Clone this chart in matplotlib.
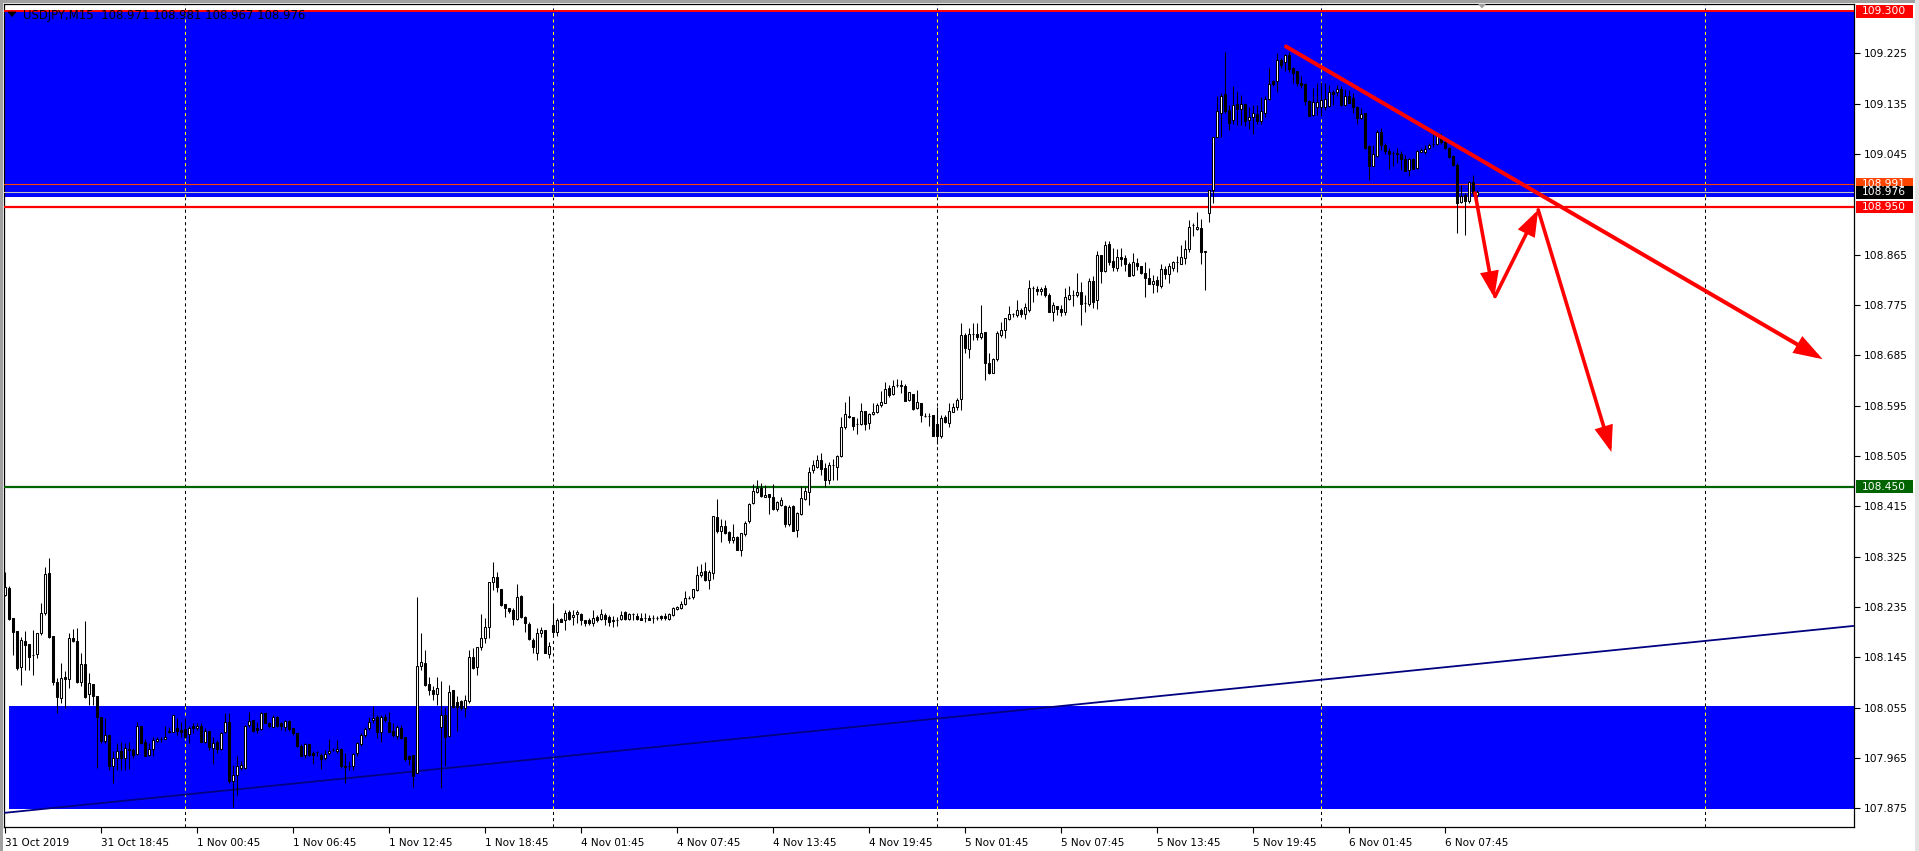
import matplotlib
matplotlib.use("Agg")
import matplotlib.pyplot as plt
from matplotlib.patches import Rectangle, Polygon
import numpy as np

plt.rcParams['font.family'] = ['DejaVu Sans']

# ---------------- data (USDJPY, M15) ----------------
opens = [
108.257,108.269,108.215,108.192,108.127,108.174,108.168,108.149,108.151,108.189,
108.225,108.295,108.183,108.100,108.072,108.109,108.106,108.179,108.175,108.100,
108.133,108.080,108.097,108.076,108.039,107.996,108.006,107.951,107.965,107.977,
107.965,107.981,107.980,107.972,108.023,107.994,107.971,107.981,107.995,107.999,
107.999,108.013,108.012,108.018,108.015,108.016,108.008,108.022,108.018,108.023,
107.994,108.014,107.983,107.993,107.981,108.011,108.030,107.924,107.934,107.947,
107.947,108.024,108.033,108.018,108.017,108.046,108.028,108.021,108.039,108.028,
108.021,108.031,108.018,108.009,107.987,107.971,107.990,107.974,107.975,107.971,
107.965,107.974,107.979,107.978,107.981,107.951,107.950,107.950,107.974,107.990,
108.006,108.018,108.033,108.039,108.011,108.039,108.030,108.013,108.005,108.018,
108.002,107.968,107.971,107.939,108.129,108.134,108.098,108.087,108.079,108.020,
108.041,108.005,108.086,108.065,108.066,108.054,108.066,108.145,108.127,108.163,
108.179,108.200,108.279,108.288,108.268,108.240,108.234,108.230,108.214,108.254,
108.217,108.205,108.176,108.152,108.188,108.194,108.151,108.202,108.191,108.213,
108.212,108.226,108.217,108.222,108.223,108.211,108.211,108.206,108.217,108.214,
108.221,108.217,108.210,108.211,108.214,108.226,108.214,108.223,108.218,108.216,
108.215,108.216,108.215,108.216,108.218,108.218,108.214,108.220,108.231,108.233,
108.240,108.251,108.252,108.266,108.292,108.300,108.283,108.295,108.395,108.370,
108.379,108.369,108.355,108.360,108.336,108.365,108.388,108.420,108.441,108.448,
108.432,108.437,108.432,108.410,108.418,108.416,108.384,108.416,108.372,108.401,
108.428,108.441,108.479,108.486,108.498,108.483,108.462,108.488,108.486,108.504,
108.556,108.577,108.574,108.562,108.562,108.585,108.563,108.580,108.583,108.596,
108.600,108.626,108.615,108.631,108.631,108.630,108.605,108.615,108.590,108.599,
108.577,108.577,108.578,108.562,108.541,108.575,108.563,108.584,108.592,108.606,
108.721,108.696,108.723,108.723,108.717,108.726,108.672,108.654,108.678,108.721,
108.730,108.750,108.758,108.757,108.766,108.758,108.766,108.805,108.803,108.799,
108.805,108.793,108.763,108.773,108.768,108.763,108.786,108.792,108.792,108.798,
108.779,108.777,108.818,108.783,108.865,108.835,108.884,108.854,108.841,108.860,
108.859,108.848,108.828,108.850,108.845,108.832,108.824,108.813,108.820,108.808,
108.839,108.830,108.841,108.851,108.849,108.858,108.875,108.917,108.910,108.912,
108.870,108.939,108.981,109.076,109.119,109.152,109.124,109.105,109.135,109.126,
109.134,109.106,109.111,109.117,109.103,109.119,109.144,109.175,109.175,109.212,
109.209,109.222,109.198,109.193,109.172,109.170,109.139,109.115,109.129,109.129,
109.128,109.130,109.156,109.156,109.161,109.133,109.149,109.145,109.129,109.109,
109.118,109.060,109.024,109.041,109.085,109.061,109.050,109.046,109.047,109.045,
109.036,109.017,109.035,109.020,109.049,109.048,109.055,109.062,109.062,109.075,
109.067,109.055,109.042,109.026,108.959,108.972,108.960,108.995,108.971]

highs = [
108.298,108.273,108.215,108.192,108.182,108.192,108.168,108.194,108.188,108.242,
108.307,108.322,108.183,108.108,108.134,108.120,108.188,108.195,108.197,108.152,
108.210,108.117,108.097,108.076,108.039,108.036,108.006,107.978,107.991,107.994,
107.991,107.993,107.983,108.030,108.023,107.999,107.991,108.002,108.002,108.003,
108.022,108.021,108.042,108.036,108.030,108.036,108.022,108.028,108.028,108.027,
108.018,108.014,108.003,107.997,108.012,108.045,108.045,107.953,107.969,107.959,
108.024,108.048,108.033,108.030,108.048,108.046,108.030,108.042,108.040,108.030,
108.033,108.033,108.018,108.009,107.990,107.991,107.990,107.977,107.978,107.974,
107.980,107.999,107.983,107.997,107.983,107.974,107.959,107.974,107.994,108.009,
108.020,108.039,108.058,108.041,108.041,108.044,108.048,108.028,108.024,108.024,
108.002,107.971,107.971,108.252,108.189,108.158,108.109,108.093,108.109,108.102,
108.057,108.096,108.087,108.075,108.069,108.078,108.158,108.161,108.164,108.223,
108.215,108.279,108.316,108.297,108.268,108.240,108.234,108.233,108.276,108.257,
108.218,108.209,108.179,108.197,108.199,108.194,108.173,108.240,108.215,108.215,
108.229,108.229,108.230,108.229,108.224,108.211,108.215,108.230,108.221,108.231,
108.224,108.221,108.218,108.217,108.228,108.227,108.225,108.225,108.224,108.224,
108.224,108.221,108.221,108.219,108.221,108.224,108.224,108.235,108.237,108.245,
108.264,108.254,108.268,108.308,108.312,108.316,108.301,108.397,108.428,108.392,
108.391,108.370,108.384,108.361,108.368,108.388,108.420,108.455,108.462,108.456,
108.453,108.437,108.454,108.424,108.431,108.418,108.418,108.418,108.404,108.451,
108.450,108.485,108.498,108.507,108.510,108.492,108.494,108.499,108.507,108.575,
108.602,108.612,108.574,108.572,108.600,108.586,108.581,108.600,108.600,108.621,
108.637,108.632,108.641,108.642,108.641,108.633,108.620,108.616,108.623,108.600,
108.581,108.581,108.579,108.593,108.578,108.578,108.600,108.600,108.609,108.742,
108.724,108.733,108.742,108.742,108.775,108.727,108.689,108.680,108.729,108.745,
108.752,108.773,108.760,108.784,108.769,108.779,108.820,108.808,108.808,108.807,
108.811,108.796,108.781,108.773,108.775,108.805,108.809,108.802,108.832,108.816,
108.793,108.823,108.826,108.872,108.865,108.890,108.890,108.876,108.875,108.876,
108.865,108.851,108.867,108.859,108.845,108.851,108.841,108.828,108.826,108.848,
108.845,108.850,108.854,108.862,108.882,108.891,108.927,108.921,108.942,108.928,
108.871,108.981,109.075,109.148,109.154,109.228,109.133,109.166,109.157,109.151,
109.136,109.129,109.133,109.133,109.147,109.148,109.198,109.178,109.226,109.216,
109.224,109.228,109.200,109.194,109.184,109.172,109.142,109.163,109.172,109.173,
109.172,109.169,109.160,109.169,109.166,109.161,109.160,109.154,109.130,109.127,
109.118,109.061,109.061,109.088,109.091,109.064,109.055,109.051,109.055,109.051,
109.043,109.038,109.038,109.052,109.055,109.061,109.064,109.082,109.079,109.083,
109.073,109.058,109.043,109.029,108.990,108.975,108.996,109.007,108.981]

lows = [
108.254,108.212,108.149,108.123,108.095,108.123,108.123,108.114,108.143,108.185,
108.221,108.179,108.096,108.046,108.063,108.054,108.090,108.173,108.099,108.093,
108.072,108.060,108.060,107.947,107.991,107.991,107.944,107.920,107.944,107.944,
107.944,107.945,107.965,107.971,107.990,107.969,107.968,107.968,107.994,107.994,
107.999,108.009,108.011,108.006,108.003,108.000,107.991,108.009,108.015,107.994,
107.991,107.980,107.955,107.974,107.980,108.009,107.920,107.878,107.899,107.944,
107.945,108.021,108.011,108.009,108.015,108.027,108.018,108.020,108.021,108.015,
108.014,108.014,108.006,107.985,107.968,107.965,107.968,107.955,107.968,107.945,
107.962,107.971,107.977,107.974,107.947,107.920,107.944,107.944,107.968,107.987,
108.003,108.015,108.028,108.000,107.994,108.030,108.011,108.002,107.999,107.999,
107.960,107.953,107.914,107.938,108.123,108.093,108.078,108.069,108.060,107.911,
107.950,108.003,108.054,108.013,108.051,108.039,108.064,108.124,108.114,108.158,
108.170,108.179,108.266,108.261,108.236,108.217,108.224,108.203,108.212,108.215,
108.190,108.176,108.152,108.140,108.181,108.152,108.143,108.182,108.183,108.209,
108.194,108.211,108.203,108.206,108.203,108.201,108.203,108.201,108.209,108.212,
108.203,108.201,108.200,108.201,108.212,108.212,108.211,108.212,108.211,108.211,
108.209,108.211,108.207,108.212,108.212,108.211,108.212,108.218,108.230,108.231,
108.239,108.249,108.249,108.264,108.289,108.282,108.267,108.285,108.368,108.352,
108.366,108.350,108.349,108.336,108.326,108.361,108.386,108.419,108.438,108.432,
108.431,108.401,108.409,108.407,108.416,108.378,108.380,108.370,108.360,108.400,
108.426,108.417,108.474,108.483,108.471,108.450,108.455,108.462,108.462,108.503,
108.554,108.572,108.552,108.544,108.560,108.552,108.554,108.578,108.581,108.593,
108.599,108.611,108.614,108.629,108.617,108.603,108.604,108.587,108.589,108.565,
108.575,108.559,108.540,108.526,108.537,108.563,108.556,108.583,108.588,108.587,
108.689,108.680,108.712,108.712,108.714,108.640,108.652,108.653,108.674,108.718,
108.715,108.748,108.753,108.754,108.754,108.749,108.763,108.781,108.792,108.792,
108.790,108.763,108.747,108.757,108.756,108.757,108.784,108.773,108.790,108.739,
108.763,108.773,108.769,108.768,108.815,108.833,108.847,108.835,108.835,108.844,
108.835,108.826,108.826,108.838,108.831,108.790,108.813,108.797,108.798,108.805,
108.822,108.815,108.835,108.833,108.848,108.848,108.869,108.898,108.909,108.848,
108.801,108.924,108.958,109.075,109.075,109.118,109.087,109.099,109.097,109.097,
109.095,109.089,109.081,109.099,109.099,109.111,109.142,109.167,109.155,109.198,
109.194,109.191,109.172,109.167,109.163,109.133,109.112,109.113,109.115,109.113,
109.124,109.129,109.133,109.148,109.131,109.131,109.136,109.118,109.099,109.107,
109.054,108.998,109.023,109.039,109.052,109.045,109.018,109.023,109.029,109.017,
109.015,109.006,109.018,109.018,109.048,109.045,109.053,109.058,109.061,109.063,
109.054,109.038,109.023,108.903,108.957,108.900,108.957,108.970,108.967]

closes = [
108.270,108.214,108.191,108.126,108.176,108.167,108.146,108.150,108.188,108.224,
108.294,108.181,108.100,108.074,108.108,108.106,108.179,108.175,108.100,108.133,
108.074,108.099,108.075,108.039,107.996,108.006,107.951,107.965,107.977,107.965,
107.982,107.980,107.971,108.022,107.991,107.969,107.981,107.997,107.999,107.999,
108.003,108.011,108.042,108.014,108.012,108.002,108.018,108.018,108.023,107.994,
108.014,107.984,107.991,107.981,108.009,108.030,107.923,107.934,107.950,107.952,
108.023,108.032,108.014,108.015,108.046,108.028,108.023,108.039,108.022,108.022,
108.032,108.016,108.009,107.987,107.969,107.990,107.971,107.971,107.975,107.963,
107.972,107.978,107.980,107.981,107.950,107.948,107.950,107.972,107.991,108.006,
108.016,108.030,108.037,108.011,108.039,108.033,108.012,108.006,108.020,108.000,
107.963,107.963,107.932,108.129,108.136,108.095,108.086,108.079,108.090,108.041,
108.003,108.083,108.057,108.057,108.054,108.069,108.145,108.126,108.163,108.179,
108.200,108.279,108.288,108.270,108.239,108.234,108.227,108.214,108.252,108.217,
108.206,108.177,108.164,108.188,108.193,108.153,108.165,108.191,108.211,108.209,
108.224,108.214,108.221,108.226,108.211,108.206,108.207,108.216,108.211,108.222,
108.214,108.208,108.211,108.211,108.220,108.214,108.223,108.223,108.214,108.212,
108.215,108.212,108.215,108.216,108.215,108.215,108.222,108.233,108.235,108.240,
108.251,108.251,108.267,108.292,108.298,108.283,108.297,108.397,108.370,108.379,
108.368,108.354,108.360,108.336,108.367,108.386,108.419,108.443,108.447,108.434,
108.436,108.432,108.410,108.422,108.426,108.383,108.413,108.370,108.403,108.429,
108.443,108.477,108.489,108.497,108.481,108.462,108.488,108.488,108.504,108.557,
108.580,108.574,108.559,108.562,108.586,108.562,108.580,108.584,108.596,108.602,
108.624,108.614,108.630,108.631,108.630,108.603,108.619,108.589,108.601,108.578,
108.577,108.576,108.541,108.541,108.572,108.565,108.586,108.592,108.605,108.721,
108.698,108.723,108.723,108.718,108.724,108.672,108.654,108.678,108.724,108.730,
108.751,108.758,108.758,108.766,108.758,108.772,108.805,108.805,108.799,108.804,
108.793,108.763,108.775,108.768,108.763,108.789,108.793,108.792,108.798,108.776,
108.779,108.818,108.781,108.865,108.835,108.882,108.851,108.842,108.860,108.857,
108.848,108.827,108.851,108.845,108.832,108.824,108.813,108.817,108.810,108.839,
108.830,108.844,108.851,108.851,108.860,108.875,108.915,108.917,108.915,108.869,
108.871,108.980,109.075,109.122,109.149,109.121,109.101,109.132,109.126,109.134,
109.103,109.111,109.118,109.103,109.121,109.143,109.170,109.170,109.212,109.204,
109.222,109.197,109.190,109.172,109.169,109.139,109.113,109.138,109.137,109.142,
109.144,109.156,109.152,109.161,109.133,109.149,109.136,109.129,109.109,109.117,
109.055,109.024,109.044,109.085,109.061,109.050,109.044,109.047,109.044,109.036,
109.015,109.035,109.018,109.051,109.052,109.053,109.061,109.062,109.077,109.067,
109.055,109.040,109.026,108.958,108.970,108.960,108.995,108.975,108.976]

# time axis labels (bar index -> label)
time_label_bars = [0, 24, 48, 72, 96, 120, 144, 168, 192, 216, 240, 264, 288, 312, 336, 360]
time_labels = ["31 Oct 2019", "31 Oct 18:45", "1 Nov 00:45", "1 Nov 06:45", "1 Nov 12:45",
               "1 Nov 18:45", "4 Nov 01:45", "4 Nov 07:45", "4 Nov 13:45", "4 Nov 19:45",
               "5 Nov 01:45", "5 Nov 07:45", "5 Nov 13:45", "5 Nov 19:45", "6 Nov 01:45",
               "6 Nov 07:45"]
day_separator_bars = [45, 137, 233, 329, 425]

price_ticks = [107.875, 107.965, 108.055, 108.145, 108.235, 108.325, 108.415, 108.505,
               108.595, 108.685, 108.775, 108.865, 109.045, 109.135, 109.225]

# levels / objects
zone_top = (108.9685, 109.300)
zone_bottom = (107.873, 108.058)
zone_bottom_start_bar = 1.0
level_red_top = 109.300
level_orange = 108.991
level_bid = 108.976
level_red = 108.950
level_green = 108.450
support_x = [0, 462]
support_y = [107.867, 108.201]
resist_start = (320.25, 109.237)
resist_end = (454.4, 108.678)
zigzag = [((367.5, 108.975), (372.3, 108.788)),
          ((372.5, 108.790), (383.3, 108.945)),
          ((383.3, 108.945), (401.6, 108.512))]
header = "USDJPY,M15  108.971 108.981 108.967 108.976"

# ---------------- figure ----------------
W, H = 1919, 851
fig = plt.figure(figsize=(W / 100, H / 100), dpi=100)
fig.patch.set_facecolor("white")
ax_l, ax_r, ax_t, ax_b = 4, 1854, 4, 827
ax = fig.add_axes([ax_l / W, 1 - ax_b / H, (ax_r - ax_l) / W, (ax_b - ax_t) / H])
ax.set_facecolor("white")
xmin, xmax = -0.25, 462.25
ymin, ymax = 107.8416, 109.3130
ax.set_xlim(xmin, xmax)
ax.set_ylim(ymin, ymax)

# blue zones
ax.add_patch(Rectangle((xmin, zone_top[0]), xmax - xmin, zone_top[1] - zone_top[0],
                       facecolor="#0000FF", edgecolor="none", zorder=1))
ax.add_patch(Rectangle((zone_bottom_start_bar, zone_bottom[0]), xmax - zone_bottom_start_bar,
                       zone_bottom[1] - zone_bottom[0], facecolor="#0000FF", edgecolor="none", zorder=1))

# day separators (black dashed, yellow on blue)
dash = (0, (3, 3))
for b in day_separator_bars:
    segs = [(ymin, zone_bottom[0], "black"), (zone_bottom[0], zone_bottom[1], "yellow"),
            (zone_bottom[1], zone_top[0], "black"), (zone_top[0], zone_top[1], "yellow"),
            (zone_top[1], ymax, "black")]
    for y0, y1, c in segs:
        if c == "yellow" and b < zone_bottom_start_bar:
            c = "black"
        ax.plot([b, b], [y0, y1], color=c, lw=0.75, ls=dash, zorder=2)

# horizontal levels
ax.axhline(level_orange, color="#FF4500", lw=0.8, zorder=3)
ax.axhline(level_bid, color="#C0C0C0", lw=0.8, zorder=3)
ax.axhline(level_red, color="#FF0000", lw=1.6, zorder=3)
ax.axhline(level_red_top, color="#FF0000", lw=1.4, zorder=3)
ax.axhline(level_green, color="#006400", lw=1.6, zorder=3)

# support trend line
ax.plot(support_x, support_y, color="#000080", lw=1.3, zorder=4)

# candles
o = np.array(opens); h = np.array(highs); l = np.array(lows); c = np.array(closes)
x = np.arange(len(o))
hi = np.maximum(h, np.maximum(o, c))
lo = np.minimum(l, np.minimum(o, c))
ax.vlines(x, lo, hi, color="black", lw=0.75, zorder=5)
up = c > o
dn = c < o
fl = ~(up | dn)
blo = np.minimum(o, c)
bh = np.abs(c - o)
ax.bar(x[up], bh[up], bottom=blo[up], width=0.5, facecolor="white", edgecolor="black",
       linewidth=0.75, zorder=6)
ax.bar(x[dn], bh[dn], bottom=blo[dn], width=0.5, facecolor="black", edgecolor="black",
       linewidth=0.75, zorder=6)
ax.hlines(o[fl], x[fl] - 0.35, x[fl] + 0.35, color="black", lw=0.8, zorder=6)

# red resistance trend line with arrow
ap = dict(arrowstyle="-|>,head_length=1.5,head_width=0.5", color="#FF0000", lw=2.9,
          shrinkA=0, shrinkB=0, mutation_scale=10, joinstyle="miter")
ax.annotate("", xy=resist_end, xytext=resist_start, arrowprops=ap, zorder=7,
            annotation_clip=False)
ap2 = dict(arrowstyle="-|>,head_length=1.4,head_width=0.5", color="#FF0000", lw=2.6,
           shrinkA=0, shrinkB=0, mutation_scale=10, joinstyle="miter")
for s, e in zigzag:
    ax.annotate("", xy=e, xytext=s, arrowprops=ap2, zorder=7, annotation_clip=False)

# axes styling
for sp in ax.spines.values():
    sp.set_color("black")
    sp.set_linewidth(0.9)
ax.yaxis.tick_right()
ax.set_yticks(price_ticks)
ax.set_yticklabels(["%.3f" % v for v in price_ticks])
ax.tick_params(axis="y", which="both", right=True, left=False, length=4, width=0.8,
               pad=3, labelsize=7.7, direction="out", colors="black")
ax.set_xticks(time_label_bars)
ax.set_xticklabels(time_labels)
for lbl in ax.get_xticklabels():
    lbl.set_ha("left")
ax.tick_params(axis="x", length=4, width=0.8, pad=4, labelsize=7.5, direction="out")

# price label boxes on right axis
def price_box(price, text, fc):
    yd = ax.transData.transform((0, price))[1]
    hbox = 12.5
    fig.patches.append(Rectangle((1855.5 / W, (yd - hbox / 2) / H), 57 / W, hbox / H,
                                 transform=fig.transFigure, facecolor=fc, edgecolor="none",
                                 zorder=10))
    fig.text(1861.5 / W, yd / H, text, color="white", fontsize=7.7, va="center",
             ha="left", zorder=11)

price_box(level_orange, "%.3f" % level_orange, "#FF4500")
price_box(level_red, "%.3f" % level_red, "#FF0000")
price_box(level_bid, "%.3f" % level_bid, "black")
price_box(level_red_top, "%.3f" % level_red_top, "#FF0000")
price_box(level_green, "%.3f" % level_green, "#006400")

# header
fig.patches.append(Polygon([[8 / W, 1 - 12 / H], [16 / W, 1 - 12 / H], [12 / W, 1 - 16.5 / H]],
                           closed=True, transform=fig.transFigure, facecolor="black",
                           edgecolor="black", lw=0.5, zorder=12))
fig.text(23 / W, 1 - 15 / H, header, fontsize=8.4, va="center", ha="left", color="black", zorder=12)

# shift marker
fig.patches.append(Polygon([[1478 / W, 1 - 4 / H], [1486 / W, 1 - 4 / H], [1482 / W, 1 - 8.5 / H]],
                           closed=True, transform=fig.transFigure, facecolor="#A0A0A0",
                           edgecolor="none", zorder=12))

# window frame strips
fig.patches.append(Rectangle((0, 0), 3 / W, 1, transform=fig.transFigure,
                             facecolor="#A0A0A0", edgecolor="none", zorder=0))
fig.patches.append(Rectangle((0, 1 - 3 / H), 1, 3 / H, transform=fig.transFigure,
                             facecolor="#A0A0A0", edgecolor="none", zorder=0))
fig.patches.append(Rectangle((1 - 4 / W, 0), 4 / W, 1, transform=fig.transFigure,
                             facecolor="#E3E3E3", edgecolor="none", zorder=0))

fig.savefig("out.png", dpi=100)
